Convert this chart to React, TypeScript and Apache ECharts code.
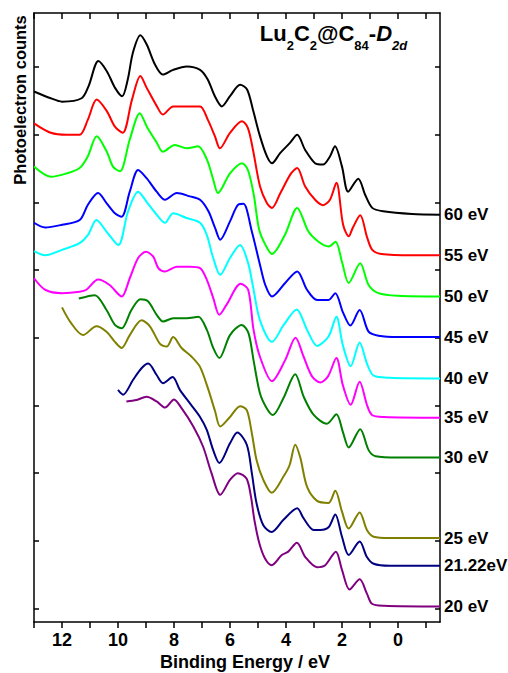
import { useEffect, useRef } from "react";
import * as echarts from "echarts";

const FONT = "'Liberation Sans', Arial, Helvetica, sans-serif";

// axis tick values (binding energy, eV) and intensity tick values (arb. units)
const xTickValues = [-1, 0, 1, 2, 3, 4, 5, 6, 7, 8, 9, 10, 11, 12, 13];
const xLabelValues = [0, 2, 4, 6, 8, 10, 12];
const yTickValues = [0, 1, 2, 3, 4, 5, 6, 7, 8];

const seriesNames = ["60 eV", "55 eV", "50 eV", "45 eV", "40 eV", "35 eV", "30 eV", "25 eV", "21.22eV", "20 eV"];
const seriesColors = ["#000000", "#ff0000", "#00ff00", "#0000ff", "#00ffff", "#ff00ff", "#008000", "#808000", "#000080", "#800080"];

// [binding energy (eV), offset photoelectron counts (arb.)]
const s60: [number, number][] = [[13, 7.64], [12.4, 7.54], [12, 7.49], [11.3, 7.54], [11.05, 7.72], [10.7, 8.09], [10.4, 7.94], [10.1, 7.69], [9.85, 7.57], [9.65, 7.82], [9.47, 8.21], [9.2, 8.47], [8.97, 8.33], [8.68, 8.04], [8.4, 7.89], [8.03, 7.96], [7.54, 8.01], [7.07, 7.96], [6.8, 7.82], [6.54, 7.57], [6.29, 7.42], [6, 7.57], [5.64, 7.74], [5.39, 7.67], [5.18, 7.37], [4.93, 6.98], [4.68, 6.68], [4.5, 6.58], [4.21, 6.73], [3.86, 6.88], [3.6, 7.0], [3.32, 6.78], [2.96, 6.58], [2.68, 6.56], [2.43, 6.68], [2.25, 6.83], [2.0, 6.53], [1.78, 6.16], [1.42, 6.35], [1.17, 6.11], [0.92, 5.92], [0.53, 5.87], [-0.5, 5.83], [-1.5, 5.82]];
const s55: [number, number][] = [[13, 7.17], [12.4, 7.03], [11.83, 7.0], [11.37, 7.0], [11.08, 7.22], [10.76, 7.52], [10.4, 7.35], [10.11, 7.12], [9.83, 7.03], [9.5, 7.52], [9.2, 7.87], [8.97, 7.69], [8.61, 7.42], [8.4, 7.3], [8.03, 7.42], [7.54, 7.42], [7.07, 7.42], [6.79, 7.22], [6.54, 6.98], [6.36, 6.8], [6.0, 7.03], [5.57, 7.2], [5.36, 7.1], [5.18, 6.78], [4.93, 6.24], [4.68, 5.99], [4.5, 5.92], [4.2, 6.14], [3.82, 6.43], [3.6, 6.51], [3.32, 6.24], [2.96, 6.04], [2.68, 5.96], [2.43, 6.04], [2.2, 6.29], [1.96, 5.67], [1.76, 5.5], [1.61, 5.63], [1.35, 5.81], [1.1, 5.48], [0.92, 5.3], [0.6, 5.24], [-0.5, 5.22], [-1.5, 5.22]];
const s50: [number, number][] = [[13, 6.53], [12.4, 6.38], [11.83, 6.43], [11.37, 6.51], [11.08, 6.68], [10.76, 6.98], [10.4, 6.75], [10.18, 6.53], [9.93, 6.46], [9.58, 6.93], [9.22, 7.32], [8.97, 7.12], [8.61, 6.88], [8.4, 6.75], [7.97, 6.85], [7.54, 6.8], [7.14, 6.83], [6.82, 6.63], [6.6, 6.34], [6.43, 6.14], [6.0, 6.43], [5.57, 6.58], [5.36, 6.48], [5.15, 6.11], [4.96, 5.6], [4.73, 5.37], [4.5, 5.24], [4.04, 5.52], [3.6, 5.92], [3.2, 5.57], [2.84, 5.42], [2.47, 5.35], [2.23, 5.42], [2.0, 5.12], [1.76, 4.81], [1.35, 5.1], [1.05, 4.78], [0.7, 4.66], [0, 4.62], [-1.5, 4.61]];
const s45: [number, number][] = [[13, 5.7], [12.6, 5.63], [12.0, 5.67], [11.37, 5.74], [11.07, 5.97], [10.71, 6.14], [10.41, 5.99], [10.11, 5.84], [9.87, 5.79], [9.58, 6.16], [9.28, 6.48], [8.98, 6.36], [8.62, 6.16], [8.32, 6.04], [7.9, 6.14], [7.43, 6.09], [7.07, 6.04], [6.77, 5.87], [6.53, 5.62], [6.35, 5.45], [6.0, 5.72], [5.7, 5.97], [5.52, 5.98], [5.22, 5.57], [4.93, 5.08], [4.74, 4.78], [4.5, 4.61], [4.03, 4.81], [3.6, 4.98], [3.25, 4.71], [2.89, 4.56], [2.48, 4.56], [2.24, 4.66], [1.97, 4.38], [1.7, 4.18], [1.37, 4.41], [1.05, 4.09], [0.7, 4.03], [0, 4.01], [-1.5, 4.01]];
const s40: [number, number][] = [[13, 5.28], [12.6, 5.22], [12.0, 5.3], [11.37, 5.4], [11.07, 5.52], [10.77, 5.74], [10.41, 5.57], [9.99, 5.37], [9.64, 5.87], [9.28, 6.16], [8.98, 6.01], [8.62, 5.82], [8.32, 5.7], [8.03, 5.84], [7.55, 5.77], [7.07, 5.7], [6.83, 5.52], [6.6, 5.18], [6.35, 4.93], [6.0, 5.18], [5.64, 5.37], [5.35, 5.1], [5.18, 4.76], [4.93, 4.26], [4.5, 3.94], [4.08, 4.19], [3.62, 4.42], [3.25, 4.12], [2.89, 3.88], [2.48, 4.02], [2.2, 4.31], [1.97, 3.89], [1.69, 3.58], [1.37, 3.93], [1.11, 3.62], [0.87, 3.44], [0.3, 3.41], [-1.5, 3.4]];
const s35: [number, number][] = [[13, 4.88], [12.6, 4.71], [12.0, 4.66], [11.37, 4.68], [11.13, 4.71], [10.71, 4.86], [10.3, 4.78], [9.87, 4.61], [9.58, 4.88], [9.28, 5.18], [9.0, 5.27], [8.74, 5.2], [8.56, 5.03], [8.32, 4.98], [7.9, 5.05], [7.43, 5.05], [7.07, 5.03], [6.83, 4.86], [6.6, 4.59], [6.38, 4.34], [6.12, 4.49], [5.62, 4.8], [5.35, 4.71], [5.16, 4.12], [4.93, 3.72], [4.5, 3.36], [4.03, 3.67], [3.66, 4.0], [3.37, 3.72], [3.07, 3.43], [2.77, 3.34], [2.5, 3.43], [2.2, 3.7], [1.97, 3.3], [1.69, 3.01], [1.37, 3.35], [1.11, 3.01], [0.93, 2.86], [0.5, 2.83], [-1.5, 2.82]];
const s30: [number, number][] = [[11.4, 4.58], [10.83, 4.63], [10.41, 4.41], [10.11, 4.19], [9.87, 4.14], [9.52, 4.41], [9.2, 4.57], [8.93, 4.54], [8.62, 4.34], [8.39, 4.24], [8.03, 4.29], [7.55, 4.29], [7.13, 4.31], [6.83, 4.12], [6.6, 3.85], [6.38, 3.7], [6.0, 4.04], [5.58, 4.19], [5.34, 4.07], [5.16, 3.67], [4.93, 3.18], [4.69, 2.96], [4.47, 2.86], [4.09, 3.11], [3.67, 3.46], [3.37, 3.13], [3.01, 2.86], [2.54, 2.73], [2.2, 2.87], [1.97, 2.61], [1.76, 2.38], [1.35, 2.65], [1.05, 2.34], [0.8, 2.25], [0, 2.23], [-1.5, 2.23]];
const s25: [number, number][] = [[12.0, 4.45], [11.68, 4.22], [11.25, 4.04], [10.77, 4.17], [10.41, 4.09], [10.11, 3.94], [9.87, 3.85], [9.58, 4.04], [9.16, 4.26], [8.86, 4.17], [8.5, 3.91], [8.26, 3.87], [8.03, 4.01], [7.73, 3.85], [7.37, 3.72], [7.07, 3.57], [6.77, 3.23], [6.53, 2.91], [6.35, 2.69], [6.0, 2.83], [5.64, 2.99], [5.4, 2.93], [5.22, 2.59], [5.05, 2.19], [4.81, 1.9], [4.51, 1.71], [4.09, 1.95], [3.87, 2.12], [3.67, 2.42], [3.49, 2.23], [3.25, 1.8], [2.89, 1.59], [2.48, 1.56], [2.24, 1.74], [2.0, 1.43], [1.76, 1.18], [1.37, 1.42], [1.11, 1.16], [0.87, 1.06], [0.3, 1.04], [-1.5, 1.04]];
const s21: [number, number][] = [[10.0, 3.23], [9.82, 3.16], [9.46, 3.38], [9.16, 3.55], [8.92, 3.62], [8.62, 3.45], [8.39, 3.33], [8.05, 3.42], [7.79, 3.23], [7.43, 3.03], [7.07, 2.83], [6.83, 2.64], [6.6, 2.34], [6.38, 2.15], [6.0, 2.44], [5.74, 2.6], [5.4, 2.42], [5.22, 2.0], [5.05, 1.55], [4.81, 1.23], [4.51, 1.13], [4.09, 1.31], [3.6, 1.48], [3.37, 1.33], [3.01, 1.16], [2.78, 1.16], [2.48, 1.2], [2.24, 1.39], [2.0, 1.06], [1.76, 0.79], [1.37, 0.99], [1.11, 0.76], [0.87, 0.66], [0.3, 0.63], [-1.5, 0.63]];
const s20: [number, number][] = [[9.7, 3.06], [9.34, 3.08], [8.98, 3.13], [8.62, 3.06], [8.32, 2.97], [8.0, 3.09], [7.73, 2.96], [7.31, 2.69], [6.96, 2.39], [6.66, 2.0], [6.35, 1.68], [6.0, 1.9], [5.72, 2.0], [5.41, 1.92], [5.25, 1.65], [5.13, 1.31], [4.95, 0.96], [4.75, 0.74], [4.51, 0.64], [4.15, 0.79], [3.92, 0.84], [3.61, 0.97], [3.31, 0.76], [2.89, 0.61], [2.6, 0.64], [2.22, 0.84], [2.0, 0.57], [1.73, 0.28], [1.37, 0.43], [1.11, 0.22], [0.93, 0.07], [0.5, 0.04], [-1.5, 0.03]];

const spectra = [s60, s55, s50, s45, s40, s35, s30, s25, s21, s20];

export default function App() {
  const ref = useRef<HTMLDivElement>(null);
  useEffect(() => {
    if (!ref.current) return;
    const chart = echarts.init(ref.current, null, { renderer: "svg" });
    const lineBlack = { color: "#000", width: 1.5 };
    const xBase = {
      type: "value" as const,
      min: -1.5,
      max: 13,
      inverse: true,
      splitLine: { show: false },
      axisLine: { show: true, onZero: false, lineStyle: lineBlack },
    };
    const yBase = {
      type: "value" as const,
      min: -0.2,
      max: 8.8,
      splitLine: { show: false },
      axisLabel: { show: false },
      axisLine: { show: true, onZero: false, lineStyle: lineBlack },
      axisTick: { show: true, inside: true, length: 5, customValues: yTickValues, lineStyle: lineBlack },
    };
    chart.setOption({
      animation: false,
      backgroundColor: "#ffffff",
      grid: { left: 34, right: 68, top: 13, bottom: 51, containLabel: false },
      xAxis: [
        {
          ...xBase,
          position: "bottom",
          axisTick: { show: true, inside: false, length: 6, customValues: xTickValues, lineStyle: lineBlack },
          axisLabel: {
            show: true,
            customValues: xLabelValues,
            margin: 9,
            fontSize: 18,
            fontWeight: "bold",
            color: "#000",
            fontFamily: FONT,
          },
        },
        {
          ...xBase,
          position: "top",
          axisTick: { show: true, inside: true, length: 6, customValues: xTickValues, lineStyle: lineBlack },
          axisLabel: { show: false },
        },
      ],
      yAxis: [
        { ...yBase, position: "left" },
        { ...yBase, position: "right" },
      ],
      series: spectra.map((data, i) => ({
        type: "line",
        name: seriesNames[i],
        data,
        xAxisIndex: 0,
        yAxisIndex: 0,
        symbol: "none",
        showSymbol: false,
        smooth: 0.3,
        lineStyle: { color: seriesColors[i], width: 2 },
        itemStyle: { color: seriesColors[i] },
        endLabel: {
          show: true,
          formatter: seriesNames[i],
          color: "#000",
          fontSize: 17,
          fontWeight: "bold",
          fontFamily: FONT,
          align: "left",
          verticalAlign: "middle",
          distance: -4,
        },
      })),
      graphic: [
        {
          type: "text",
          x: 19.5,
          y: 100,
          rotation: Math.PI / 2,
          style: {
            text: "Photoelectron counts",
            fontSize: 16.5,
            fontWeight: "bold",
            fontFamily: FONT,
            fill: "#000",
            align: "center",
            verticalAlign: "middle",
          },
        },
        {
          type: "text",
          x: 245,
          y: 662,
          style: {
            text: "Binding Energy / eV",
            fontSize: 18,
            fontWeight: "bold",
            fontFamily: FONT,
            fill: "#000",
            align: "center",
            verticalAlign: "middle",
          },
        },
        {
          type: "text",
          x: 333.5,
          y: 22,
          style: {
            text: "{m|Lu}{s|2}{m|C}{s|2}{m|@C}{s|84}{m|-}{mi|D}{si|2d}",
            align: "center",
            verticalAlign: "top",
            fill: "#000",
            fontFamily: FONT,
            rich: {
              m: { fontSize: 22, fontWeight: "bold", fontFamily: FONT, fill: "#000", lineHeight: 22, verticalAlign: "top" },
              mi: { fontSize: 22, fontWeight: "bold", fontStyle: "italic", fontFamily: FONT, fill: "#000", lineHeight: 22, verticalAlign: "top" },
              s: { fontSize: 13, fontWeight: "bold", fontFamily: FONT, fill: "#000", lineHeight: 30, verticalAlign: "bottom" },
              si: { fontSize: 13, fontWeight: "bold", fontStyle: "italic", fontFamily: FONT, fill: "#000", lineHeight: 30, verticalAlign: "bottom" },
            },
          },
        },
      ],
    });
    return () => chart.dispose();
  }, []);
  return (
    <div
      ref={ref}
      style={{ position: "fixed", left: 0, top: 0, width: 508, height: 673, background: "#fff" }}
    />
  );
}
